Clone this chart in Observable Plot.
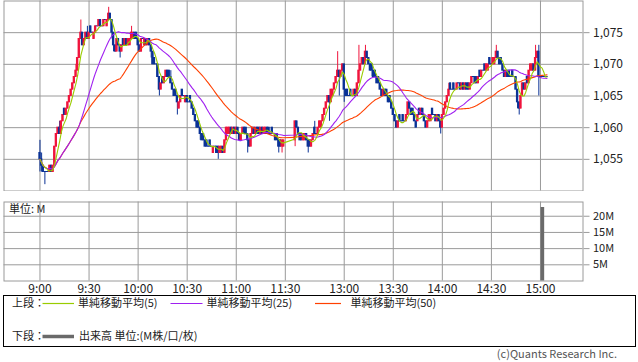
<!DOCTYPE html>
<html><head><meta charset="utf-8">
<script src="https://cdn.jsdelivr.net/npm/d3@7"></script>
<script src="https://cdn.jsdelivr.net/npm/@observablehq/plot@0.6"></script>
<style>
html,body{margin:0;padding:0;background:#fff;}
#wrap{position:relative;width:638px;height:362px;overflow:hidden;font-family:'Noto Sans CJK JP',sans-serif;}
#price{position:absolute;left:0;top:0;}
#vol{position:absolute;left:0;top:201px;}
#legend{position:absolute;left:0;top:290px;}
#copy{position:absolute;right:21px;top:347px;font-size:11px;line-height:13px;color:#555;white-space:nowrap;}
</style></head><body>
<div id="wrap"><div id="price"></div><div id="vol"></div><svg id="legend" width="638" height="62"></svg><div id="copy">(c)Quants Research Inc.</div></div>
<script>
// ---- data (1-minute bars) ----
const amOpen = [1056,1055,1054,1053,1053,1053,1053,1054,1053,1054,
 1057,1059,1060,1059,1061,1063,1062,1063,1064,1065,
 1066,1067,1068,1069,1071,1074,1075,1073,1074,1075,
 1074,1076,1075,1074,1075,1076,1076,1077,1076,1076,
 1077,1076,1077,1078,1077,1075,1073,1072,1074,1073,
 1072,1074,1073,1074,1073,1073,1074,1074,1075,1075,
 1074,1073,1072,1074,1073,1074,1073,1074,1073,1072,
 1071,1070,1070,1068,1066,1068,1067,1068,1069,1069,
 1068,1067,1066,1066,1065,1063,1064,1066,1065,1064,
 1065,1064,1065,1064,1063,1062,1061,1061,1060,1059,
 1059,1058,1058,1057,1058,1057,1056,1057,1057,1057,
 1056,1056,1057,1056,1058,1059,1059,1060,1059,1060,
 1059,1060,1059,1058,1059,1060,1060,1059,1058,1057,
 1059,1060,1059,1060,1060,1059,1060,1059,1059,1060,
 1060,1059,1060,1059,1059,1059,1058,1058,1057,1057];
const amHigh = [1058,1056,1054,1053,1053,1053,1054,1054,1054,1057,
 1059,1060,1061,1061,1062,1063,1063,1064,1065,1066,
 1067,1068,1070,1071,1074,1077,1075,1074,1075,1076,
 1075,1076,1075,1075,1076,1076,1077,1077,1076,1077,
 1077,1077,1079,1078,1077,1075,1073,1074,1074,1073,
 1073,1074,1074,1074,1074,1074,1076,1075,1075,1075,
 1074,1073,1074,1074,1074,1074,1074,1074,1073,1072,
 1071,1070,1070,1068,1067,1068,1068,1069,1069,1069,
 1069,1067,1066,1066,1065,1064,1065,1066,1065,1065,
 1065,1064,1065,1064,1063,1062,1061,1061,1060,1059,
 1059,1058,1058,1057,1058,1057,1057,1057,1057,1057,
 1057,1057,1057,1058,1060,1060,1060,1060,1060,1060,
 1060,1060,1059,1059,1060,1060,1060,1059,1058,1059,
 1060,1060,1060,1060,1060,1060,1060,1060,1060,1060,
 1060,1059,1060,1059,1059,1059,1058,1058,1058,1058];
const amLow = [1053,1053,1053,1051,1053,1053,1053,1053,1053,1054,
 1057,1059,1059,1059,1061,1062,1062,1063,1064,1065,
 1066,1067,1068,1069,1071,1074,1073,1073,1074,1074,
 1074,1075,1075,1074,1075,1076,1076,1076,1076,1076,
 1077,1076,1077,1077,1074,1072,1072,1072,1073,1071,
 1072,1073,1073,1073,1073,1073,1074,1074,1074,1074,
 1072,1072,1072,1074,1073,1073,1073,1073,1071,1070,
 1070,1070,1068,1065,1066,1067,1067,1068,1068,1068,
 1067,1066,1065,1065,1062,1063,1064,1065,1065,1064,
 1064,1064,1064,1063,1062,1061,1060,1060,1058,1058,
 1058,1057,1057,1057,1057,1057,1056,1057,1056,1055,
 1056,1056,1056,1056,1058,1059,1059,1059,1059,1059,
 1059,1059,1058,1058,1059,1059,1059,1056,1057,1057,
 1059,1059,1059,1059,1059,1059,1059,1059,1059,1059,
 1059,1059,1059,1059,1058,1058,1056,1057,1056,1057];
const amClose = [1055,1054,1053,1053,1053,1053,1054,1053,1054,1057,
 1059,1060,1059,1061,1062,1062,1063,1064,1065,1066,
 1067,1068,1069,1071,1074,1075,1073,1074,1075,1074,
 1075,1075,1075,1075,1076,1076,1077,1076,1076,1077,
 1077,1077,1078,1077,1075,1073,1072,1074,1073,1072,
 1073,1073,1074,1073,1074,1074,1075,1075,1074,1074,
 1073,1072,1074,1074,1074,1073,1074,1073,1072,1070,
 1070,1070,1068,1066,1067,1067,1068,1069,1068,1068,
 1067,1066,1065,1065,1064,1064,1065,1065,1065,1065,
 1064,1064,1064,1063,1062,1061,1060,1060,1059,1058,
 1058,1057,1057,1057,1057,1057,1057,1057,1056,1056,
 1057,1057,1056,1058,1060,1060,1060,1059,1060,1059,
 1060,1059,1058,1059,1060,1059,1059,1058,1057,1059,
 1060,1059,1060,1059,1059,1060,1059,1060,1060,1059,
 1059,1059,1059,1059,1058,1058,1057,1057,1058,1058];

const pmOpen = [1058,1061,1060,1059,1059,1058,1058,1059,1058,1058,
 1057,1058,1060,1059,1059,1060,1060,1061,1062,1063,
 1064,1065,1064,1065,1066,1067,1068,1069,1068,1069,
 1070,1066,1066,1065,1066,1065,1065,1066,1065,1067,
 1069,1070,1071,1070,1072,1071,1070,1070,1069,1069,
 1068,1068,1067,1066,1065,1066,1066,1065,1065,1064,
 1063,1062,1061,1060,1062,1061,1062,1061,1061,1062,
 1064,1063,1063,1062,1061,1061,1063,1062,1063,1062,
 1061,1060,1061,1061,1063,1062,1062,1061,1062,1061,
 1060,1062,1063,1064,1065,1067,1066,1067,1066,1066,
 1067,1067,1066,1067,1066,1067,1067,1066,1067,1068,
 1068,1068,1067,1069,1068,1069,1070,1069,1069,1071,
 1070,1070,1070,1071,1072,1071,1071,1070,1069,1068,
 1069,1069,1068,1069,1068,1068,1066,1064,1063,1065,
 1067,1066,1068,1067,1069,1069,1070,1069,1071,1072,
 1068,1068,1068,1068,1068];
const pmHigh = [1061,1061,1060,1059,1059,1059,1059,1059,1058,1058,
 1058,1059,1061,1059,1060,1061,1061,1062,1063,1064,
 1065,1065,1066,1066,1067,1068,1072,1069,1069,1070,
 1070,1066,1066,1065,1066,1065,1066,1066,1067,1073,
 1070,1071,1071,1073,1072,1071,1070,1070,1069,1069,
 1068,1068,1067,1066,1066,1066,1066,1065,1065,1064,
 1063,1062,1061,1061,1062,1061,1062,1061,1062,1064,
 1064,1063,1063,1062,1061,1062,1063,1063,1063,1062,
 1061,1061,1062,1062,1063,1062,1062,1062,1062,1061,
 1062,1063,1064,1065,1067,1067,1066,1067,1066,1067,
 1067,1067,1067,1067,1067,1067,1067,1067,1068,1068,
 1068,1068,1068,1069,1069,1069,1070,1070,1070,1071,
 1070,1071,1071,1073,1072,1071,1071,1070,1069,1069,
 1069,1069,1068,1069,1068,1068,1066,1064,1065,1067,
 1067,1067,1068,1069,1070,1070,1070,1073,1072,1073,
 1068,1068,1068,1068,1068];
const pmLow = [1057,1060,1059,1058,1058,1058,1058,1058,1056,1057,
 1057,1058,1059,1059,1059,1060,1060,1061,1062,1063,
 1064,1061,1064,1065,1066,1067,1068,1065,1068,1069,
 1064,1065,1065,1065,1065,1065,1065,1065,1065,1067,
 1069,1070,1070,1070,1071,1070,1069,1068,1068,1068,
 1067,1067,1066,1065,1065,1065,1065,1064,1064,1063,
 1062,1061,1060,1060,1061,1061,1061,1061,1061,1062,
 1063,1062,1062,1061,1060,1061,1062,1062,1062,1061,
 1060,1060,1061,1061,1062,1062,1061,1061,1061,1059,
 1060,1062,1063,1064,1065,1066,1066,1066,1066,1066,
 1067,1066,1066,1066,1066,1066,1066,1066,1067,1068,
 1067,1067,1067,1068,1068,1069,1069,1069,1069,1070,
 1070,1070,1070,1071,1071,1070,1070,1069,1068,1068,
 1068,1068,1068,1068,1068,1066,1063,1062,1063,1065,
 1066,1066,1067,1067,1069,1069,1069,1069,1071,1065,
 1068,1068,1068,1068,1068];
const pmClose = [1061,1060,1059,1058,1058,1059,1059,1058,1057,1057,
 1058,1059,1059,1059,1060,1061,1061,1062,1063,1064,
 1065,1064,1066,1066,1067,1068,1069,1068,1069,1070,
 1066,1065,1065,1065,1065,1065,1066,1065,1067,1069,
 1070,1071,1070,1072,1071,1070,1069,1069,1068,1068,
 1067,1067,1066,1065,1066,1065,1065,1064,1064,1063,
 1062,1061,1060,1061,1061,1061,1061,1061,1062,1064,
 1063,1062,1062,1061,1060,1062,1062,1063,1062,1061,
 1060,1061,1062,1062,1062,1062,1061,1062,1061,1060,
 1062,1063,1064,1065,1066,1066,1066,1066,1066,1067,
 1067,1066,1067,1066,1067,1066,1066,1067,1068,1068,
 1067,1067,1068,1068,1069,1069,1069,1070,1070,1070,
 1070,1071,1071,1072,1071,1070,1070,1069,1068,1069,
 1068,1068,1068,1068,1068,1066,1064,1063,1065,1067,
 1066,1067,1067,1069,1070,1070,1069,1071,1072,1068,
 1068,1068,1068,1068,1068];

const volTime = ["15:00"];
const volValue = [22.7];   // M shares

const tickLabels = ["9:00","9:30","10:00","10:30","11:00","11:30","13:00","13:30","14:00","14:30","15:00"];
const priceTicks = [1055,1060,1065,1070,1075];
const volTicks = [5,10,15,20];
const maPeriods = [5,25,50];
const maLabels = ["単純移動平均(5)","単純移動平均(25)","単純移動平均(50)"];
const volLegend = "出来高 単位:(M株/口/枚)";

// ---- styling ----
const UP = "#f0143c", DOWN = "#0a3296", GRID = "#9a9a9a";
const maColors = ["#99cc00", "#a020f0", "#ff4000"];
const FONT = "'Noto Sans CJK JP', sans-serif";
const PM_START = 156; // axis position of 12:30 (lunch break compressed)

function timeToT(s) {
  const [h, m] = s.split(":").map(Number);
  const mins = h * 60 + m;
  return mins <= 690 ? mins - 540 : PM_START + (mins - 750);
}
const xTicks = tickLabels.map(timeToT);
const labelOf = new Map(tickLabels.map((l) => [timeToT(l), l]));

const bars = [];
amClose.forEach((c, i) => bars.push({t: i, open: amOpen[i], high: amHigh[i], low: amLow[i], close: c}));
pmClose.forEach((c, j) => bars.push({t: PM_START + j, open: pmOpen[j], high: pmHigh[j], low: pmLow[j], close: c}));
const vol = volTime.map((s, i) => ({t: timeToT(s), v: volValue[i]}));

const candleColor = (d) => d.close > d.open ? UP : DOWN;
const xDomain = [-22, 332];

const price = Plot.plot({
  width: 638, height: 191,
  marginLeft: 3.5, marginRight: 55.5, marginTop: 0.5, marginBottom: 0.5,
  style: {fontFamily: FONT, fontSize: "12px", color: "#222", background: "transparent"},
  x: {domain: xDomain, axis: null},
  y: {domain: [1050, 1080]},
  color: {type: "identity"},
  marks: [
    Plot.gridY(priceTicks, {stroke: GRID, strokeOpacity: 1}),
    Plot.gridX(xTicks, {stroke: GRID, strokeOpacity: 1}),
    Plot.frame({stroke: GRID}),
    Plot.axisY(priceTicks, {anchor: "right", tickSize: 6, tickPadding: 4, tickFormat: d3.format(","),
      stroke: GRID, fill: "#222", fontSize: 12, label: null}),
    Plot.ruleX(bars, {x: "t", y1: "low", y2: "high", stroke: candleColor, strokeWidth: 1}),
    Plot.rect(bars, {x1: (d) => d.t - 0.7, x2: (d) => d.t + 0.7, y1: "open", y2: "close",
      fill: candleColor, insetTop: -0.5, insetBottom: -0.5}),
    ...maPeriods.slice().reverse().map((k, idx) => {
      const ci = maPeriods.length - 1 - idx;
      return Plot.lineY(bars, Plot.windowY({k, anchor: "end", reduce: "mean"},
        {x: "t", y: "close", stroke: maColors[ci], strokeWidth: 1.1}));
    })
  ]
});
document.getElementById("price").append(price);

const volume = Plot.plot({
  width: 638, height: 97,
  marginLeft: 3.5, marginRight: 55.5, marginTop: 0.5, marginBottom: 17.5,
  style: {fontFamily: FONT, fontSize: "12px", color: "#222", background: "transparent"},
  x: {domain: xDomain},
  y: {domain: [0, 24.4]},
  marks: [
    Plot.gridY(volTicks, {stroke: GRID, strokeOpacity: 1}),
    Plot.gridX(xTicks, {stroke: GRID, strokeOpacity: 1}),
    Plot.frame({stroke: GRID}),
    Plot.axisY(volTicks, {anchor: "right", tickSize: 6, tickPadding: 4, tickFormat: (d) => d + "M",
      stroke: GRID, fill: "#222", fontSize: 11, label: null}),
    Plot.axisX(xTicks, {anchor: "bottom", tickSize: 0, tickPadding: 3, tickFormat: (t) => labelOf.get(t),
      fill: "#222", fontSize: 12, label: null}),
    Plot.ruleX(vol, {x: "t", y: "v", stroke: "#6a6a6a", strokeWidth: 3.6, dx: 1.9}),
    Plot.text(["単位: M"], {frameAnchor: "top-left", dx: 5, dy: 3, fontSize: 11, fill: "#222"})
  ]
});
document.getElementById("vol").append(volume);

// ---- legend ----
const lg = d3.select("#legend").style("font-family", FONT);
lg.append("rect").attr("x", 3.5).attr("y", 5.5).attr("width", 632).attr("height", 51)
  .attr("fill", "none").attr("stroke", "#000");
const row1 = 13.5, row2 = 46.5;
const t = (x, y, s) => lg.append("text").attr("x", x).attr("y", y).attr("dy", "0.36em")
  .attr("font-size", 11).attr("fill", "#222").text(s);
t(12, row1, "上段：");
const lineX = [[42.5, 74], [170.5, 202.5], [315, 341]];
const textX = [78, 206.5, 350.5];
maLabels.forEach((lab, i) => {
  lg.append("line").attr("x1", lineX[i][0]).attr("x2", lineX[i][1]).attr("y1", row1).attr("y2", row1)
    .attr("stroke", maColors[i]).attr("stroke-width", 1.2);
  t(textX[i], row1, lab);
});
t(12, row2, "下段：");
lg.append("line").attr("x1", 42.5).attr("x2", 74).attr("y1", row2).attr("y2", row2)
  .attr("stroke", "#6a6a6a").attr("stroke-width", 3.5);
t(79, row2, volLegend);
</script></body></html>
